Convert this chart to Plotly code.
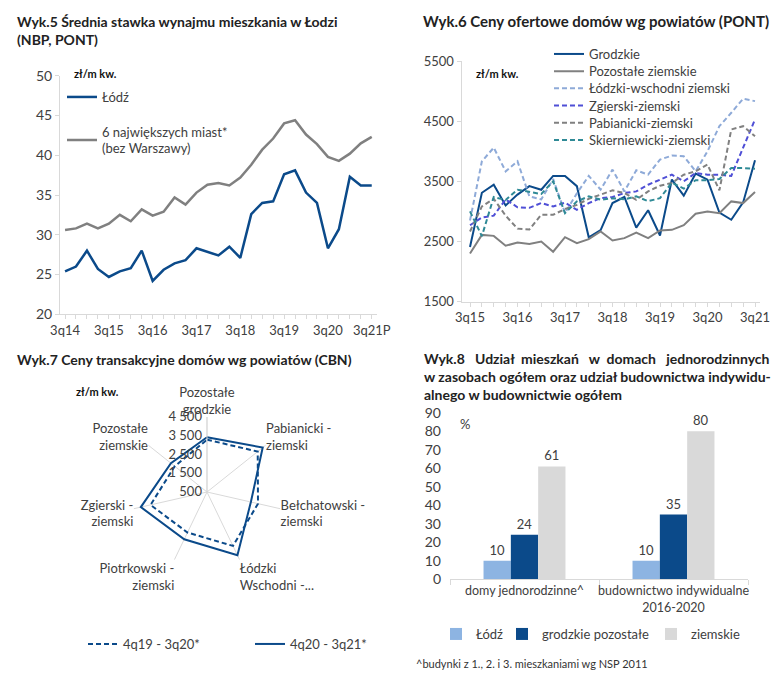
import plotly.graph_objects as go

W, H = 782, 682

# ---------------- Chart 5 data ----------------
q5 = ["3q14", "4q14", "1q15", "2q15", "3q15", "4q15", "1q16", "2q16", "3q16", "4q16",
      "1q17", "2q17", "3q17", "4q17", "1q18", "2q18", "3q18", "4q18", "1q19", "2q19",
      "3q19", "4q19", "1q20", "2q20", "3q20", "4q20", "1q21", "2q21", "3q21P"]
lodz5 = [25.4, 26.0, 28.0, 25.7, 24.7, 25.4, 25.8, 28.0, 24.2, 25.6,
         26.4, 26.8, 28.3, 27.8, 27.4, 28.5, 27.1, 32.6, 34.0, 34.2,
         37.6, 38.1, 35.3, 34.0, 28.3, 30.7, 37.3, 36.2, 36.2]
big6 = [30.6, 30.8, 31.4, 30.8, 31.4, 32.5, 31.7, 33.2, 32.4, 32.9,
        34.7, 33.8, 35.3, 36.3, 36.5, 36.2, 37.2, 38.8, 40.7, 42.1,
        44.0, 44.4, 42.6, 41.4, 39.8, 39.3, 40.2, 41.5, 42.3]

# ---------------- Chart 6 data ----------------
q6 = ["3q15", "4q15", "1q16", "2q16", "3q16", "4q16", "1q17", "2q17", "3q17", "4q17",
      "1q18", "2q18", "3q18", "4q18", "1q19", "2q19", "3q19", "4q19", "1q20", "2q20",
      "3q20", "4q20", "1q21", "2q21", "3q21"]
grodzkie = [2410, 3310, 3445, 3100, 3280, 3420, 3360, 3590, 3590, 3420,
            2570, 2690, 3140, 3240, 2730, 3020, 2600, 3530, 3262, 3630,
            3528, 2980, 2862, 3150, 3850]
pozostale_ziemskie = [2300, 2610, 2594, 2430, 2483, 2461, 2500, 2330, 2572, 2472,
                      2539, 2667, 2517, 2556, 2650, 2556, 2683, 2694, 2772, 2961,
                      3000, 2972, 3167, 3139, 3322]
lodzki_wsch = [2850, 3833, 4060, 3667, 3833, 3250, 3200, 3540, 2975, 3300,
               3590, 3362, 3695, 3333, 3683, 3612, 3862, 3928, 3917, 3667,
               4000, 4417, 4640, 4873, 4833]
zgierski = [2770, 2900, 2930, 3200, 3070, 3060, 3139, 3083, 3145, 3028,
            3139, 3222, 3239, 3306, 3333, 3444, 3528, 3611, 3500, 3639,
            3611, 3611, 3590, 4050, 4528]
pabianicki = [2667, 3083, 3210, 2930, 2714, 2700, 2945, 2945, 3040, 3110,
              3210, 3280, 3350, 3306, 3194, 3333, 3428, 3472, 3611, 3667,
              3778, 3350, 4362, 4417, 4250]
skierniewicki = [3000, 2590, 3240, 3190, 3361, 3330, 3290, 3500, 2972, 3167,
                 3250, 3195, 3220, 3200, 3250, 3170, 3220, 3480, 3380, 3520,
                 3520, 3540, 3720, 3720, 3710]

# ---------------- Chart 7 data ----------------
radar_cats = ["Pozostałe<br>grodzkie", "Pabianicki -<br>ziemski", "Bełchatowski -<br>ziemski",
              "Łódzki<br>Wschodni -...", "Piotrkowski -<br>ziemski", "Zgierski -<br>ziemski",
              "Pozostałe<br>ziemskie"]
radar_prev = [3290, 3960, 3290, 3690, 2900, 3590, 2700]
radar_curr = [3420, 4300, 2900, 4240, 3300, 4120, 2960]
radar_ticks = [500, 1500, 2500, 3500, 4500]
radar_ticktext = ["500", "1 500", "2 500", "3 500", "4 500"]

# ---------------- Chart 8 data ----------------
bar_cats = ["domy jednorodzinne^", "budownictwo indywidualne<br>2016-2020"]
bar_lodz = [10, 10]
bar_grodzkie = [24, 35]
bar_ziemskie = [61, 80]

NAVY = "#0b4a8a"
GRAY = "#808080"
LBLUE = "#8eaad8"
PURPLE = "#4f4fd6"
TEAL = "#2f8a96"
AX = "#d9d9d9"
TXT = "#404040"
FONT = "Lato, 'Open Sans', sans-serif"
DASH = "5px,3px"


def px_x(p):
    return p / W


def px_y(p):
    return 1 - p / H


fig = go.Figure()
legends = {}


def leg(name, x, y):
    legends[name] = dict(x=px_x(x), y=px_y(y), xanchor="left", yanchor="middle",
                         bgcolor="rgba(0,0,0,0)", font=dict(size=13, color=TXT))
    return name


# Chart 5
fig.add_trace(go.Scatter(x=q5, y=lodz5, name="Łódź", mode="lines",
                         line=dict(color=NAVY, width=2.5), xaxis="x", yaxis="y",
                         legend=leg("legend", 62, 97)))
fig.add_trace(go.Scatter(x=q5, y=big6, name="6 największych miast*<br>(bez Warszawy)", mode="lines",
                         line=dict(color=GRAY, width=2.5), xaxis="x", yaxis="y",
                         legend=leg("legend2", 62, 140)))

# Chart 6
series6 = [
    ("Grodzkie", grodzkie, NAVY, "solid"),
    ("Pozostałe ziemskie", pozostale_ziemskie, GRAY, "solid"),
    ("Łódzki-wschodni ziemski", lodzki_wsch, LBLUE, DASH),
    ("Zgierski-ziemski", zgierski, PURPLE, DASH),
    ("Pabianicki-ziemski", pabianicki, GRAY, DASH),
    ("Skierniewicki-ziemski", skierniewicki, TEAL, DASH),
]
for k, (name, vals, col, dash) in enumerate(series6):
    fig.add_trace(go.Scatter(x=q6, y=vals, name=name, mode="lines",
                             line=dict(color=col, width=2, dash=dash),
                             xaxis="x2", yaxis="y2",
                             legend=leg("legend%d" % (3 + k), 549, 54 + 17.2 * k)))

# Chart 7
fig.add_trace(go.Scatterpolar(r=radar_prev + radar_prev[:1], theta=radar_cats + radar_cats[:1],
                              name="4q19 - 3q20*", mode="lines",
                              line=dict(color=NAVY, width=2, dash=DASH),
                              subplot="polar", legend=leg("legend9", 83, 644)))
fig.add_trace(go.Scatterpolar(r=radar_curr + radar_curr[:1], theta=radar_cats + radar_cats[:1],
                              name="4q20 - 3q21*", mode="lines",
                              line=dict(color=NAVY, width=2),
                              subplot="polar", legend=leg("legend10", 250, 644)))

# Chart 8
for k, (name, vals, col, lx) in enumerate([("Łódź", bar_lodz, "#8db4e2", 436),
                                           ("grodzkie pozostałe", bar_grodzkie, "#0b4a8a", 502),
                                           ("ziemskie", bar_ziemskie, "#d9d9d9", 651)]):
    fig.add_trace(go.Bar(x=bar_cats, y=vals, name=name, marker=dict(color=col, line=dict(width=0)),
                         text=vals, textposition="outside", textfont=dict(size=13, color=TXT),
                         cliponaxis=False, xaxis="x4", yaxis="y4",
                         legend=leg("legend%d" % (11 + k), lx, 634)))

ticktext5 = [q if i % 4 == 0 else "" for i, q in enumerate(q5)]
ticktext6 = [q if i % 4 == 0 else "" for i, q in enumerate(q6)]

fig.update_layout(
    width=W, height=H, margin=dict(l=0, r=0, t=0, b=0, pad=0, autoexpand=False),
    paper_bgcolor="white", plot_bgcolor="white", showlegend=True,
    font=dict(family=FONT, size=13, color=TXT),
    bargap=0.45, bargroupgap=0,
    xaxis=dict(domain=[px_x(60), px_x(377)], type="category", range=[-0.46, 28.48],
               tickvals=q5, ticktext=ticktext5, ticks="outside", ticklen=4, tickcolor=AX,
               showline=True, linecolor=AX, showgrid=False, zeroline=False, anchor="y",
               tickangle=0, tickfont=dict(size=13)),
    yaxis=dict(domain=[px_y(314.3), px_y(75.7)], range=[20, 50], dtick=5, tick0=0,
               showline=True, linecolor=AX, ticks="outside", ticklen=4, tickcolor=AX,
               showgrid=False, zeroline=False, anchor="x", tickfont=dict(size=14)),
    xaxis2=dict(domain=[px_x(461.5), px_x(760)], type="category", range=[-0.716, 24.42],
                tickvals=q6, ticktext=ticktext6, ticks="outside", ticklen=4, tickcolor=AX,
                showline=True, linecolor=AX, showgrid=False, zeroline=False, anchor="y2",
                tickangle=0, tickfont=dict(size=13)),
    yaxis2=dict(domain=[px_y(301.7), px_y(61)], range=[1500, 5500], dtick=1000, tick0=1500,
                showline=True, linecolor=AX, ticks="outside", ticklen=4, tickcolor=AX,
                showgrid=False, zeroline=False, anchor="x2", tickfont=dict(size=13)),
    xaxis4=dict(domain=[px_x(450), px_x(748)], type="category", showline=True, linecolor=AX,
                ticks="outside", tickson="boundaries", ticklen=5, tickcolor=AX, tickangle=0,
                showgrid=False, zeroline=False, anchor="y4", tickfont=dict(size=12.5)),
    yaxis4=dict(domain=[px_y(579.3), px_y(412.7)], range=[0, 90], dtick=10, showline=False,
                ticks="", showgrid=False, zeroline=False, anchor="x4", tickfont=dict(size=14),
                ticklabelstandoff=8),
    polar=dict(domain=dict(x=[px_x(132), px_x(282)], y=[px_y(567), px_y(417)]),
               bgcolor="white",
               angularaxis=dict(rotation=90, direction="clockwise", showline=False,
                                gridcolor=AX, ticks="", tickfont=dict(size=13, color=TXT)),
               radialaxis=dict(range=[500, 4500], angle=90, tickangle=90, tickvals=radar_ticks,
                               ticktext=radar_ticktext, showgrid=False, showline=True,
                               linecolor=AX, ticks="", side="counterclockwise",
                               tickfont=dict(size=13, color=TXT))),
    **legends,
)

NB = "\u00a0"
title8 = ("<b>Wyk.8" + NB * 3 + "Udział" + NB * 2 + "mieszkań" + NB * 3 + "w" + NB * 2 + "domach"
          + NB * 3 + "jednorodzinnych<br>w zasobach ogółem oraz udział budownictwa indywidu-<br>"
          + "alnego w budownictwie ogółem</b>")

TITLE = "#222222"
ann = [
    dict(x=px_x(15), y=px_y(11), text="<b>Wyk.5 Średnia stawka wynajmu mieszkania w Łodzi<br>(NBP, PONT)</b>",
         align="left", font=dict(size=14, color=TITLE)),
    dict(x=px_x(421), y=px_y(10), text="<b>Wyk.6 Ceny ofertowe domów wg powiatów (PONT)</b>",
         align="left", font=dict(size=15, color=TITLE)),
    dict(x=px_x(15), y=px_y(349), text="<b>Wyk.7 Ceny transakcyjne domów wg powiatów (CBN)</b>",
         align="left", font=dict(size=14, color=TITLE)),
    dict(x=px_x(422), y=px_y(348), text=title8, align="left", font=dict(size=14, color=TITLE)),
    dict(x=px_x(72), y=px_y(65), text="<b>zł/m kw.</b>", align="left", font=dict(size=11, color="#111")),
    dict(x=px_x(474), y=px_y(65), text="<b>zł/m kw.</b>", align="left", font=dict(size=11, color="#111")),
    dict(x=px_x(74), y=px_y(383), text="<b>zł/m kw.</b>", align="left", font=dict(size=11, color="#111")),
    dict(x=px_x(458), y=px_y(414), text="%", align="left", font=dict(size=13, color=TXT)),
    dict(x=px_x(414), y=px_y(655), text="^budynki z 1., 2. i 3. mieszkaniami wg NSP 2011",
         align="left", font=dict(size=11, color="#333")),
]
for a in ann:
    a.update(xref="paper", yref="paper", xanchor="left", yanchor="top", showarrow=False)
fig.update_layout(annotations=ann)

fig.write_html("out.html", config={"displayModeBar": False},
               post_script="document.body.style.margin='0px';")
